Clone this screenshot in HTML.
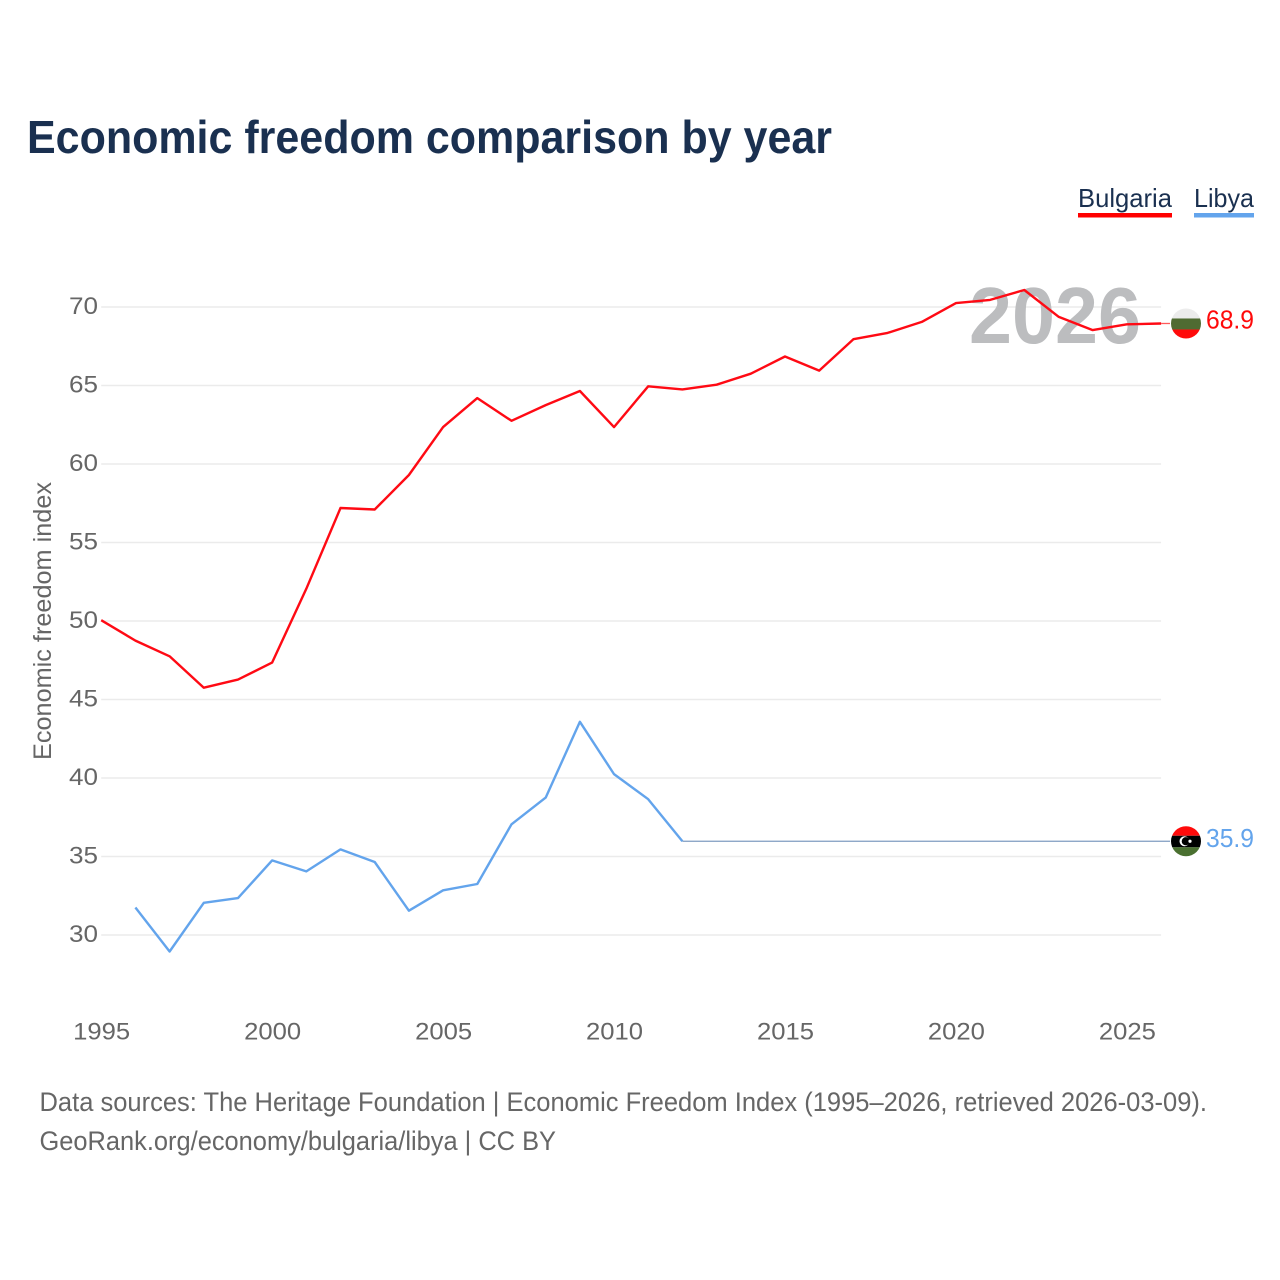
<!DOCTYPE html>
<html lang="en">
<head>
<meta charset="utf-8">
<title>Economic freedom comparison by year</title>
<style>
html,body{margin:0;padding:0;background:#fff}
svg{display:block}
text{font-family:"Liberation Sans",sans-serif}
</style>
</head>
<body>
<svg id="chart" xmlns="http://www.w3.org/2000/svg" width="1280" height="1280" viewBox="0 0 1280 1280">
  <rect width="1280" height="1280" fill="#fff"/>
  <text x="27" y="153" font-size="46" font-weight="700" fill="#1a3050" textLength="805" lengthAdjust="spacingAndGlyphs">Economic freedom comparison by year</text>

  <g>
    <g>
      <text x="1078" y="207" font-size="26" fill="#1a3050" textLength="94" lengthAdjust="spacingAndGlyphs">Bulgaria</text>
      <rect x="1078" y="213" width="94" height="4.5" fill="#ff0000"/>
    </g>
    <g>
      <text x="1194" y="207" font-size="26" fill="#1a3050" textLength="60" lengthAdjust="spacingAndGlyphs">Libya</text>
      <rect x="1194" y="213" width="60" height="4.5" fill="#63a4ec"/>
    </g>
  </g>

  <g id="grid"></g>
  <g id="yticks"></g>
  <g id="xticks"></g>

  <text transform="translate(51,621) rotate(-90)" text-anchor="middle" font-size="25" fill="#666" textLength="278" lengthAdjust="spacingAndGlyphs">Economic freedom index</text>

  <text id="yearWatermark" x="969" y="343" font-size="80" font-weight="700" fill="#bcbdbf" textLength="172" lengthAdjust="spacingAndGlyphs">2026</text>

  <g id="series"></g>
  <g id="endpoints"></g>

  <g>
    <text x="39.5" y="1111" font-size="26.5" fill="#666" textLength="1167.5" lengthAdjust="spacingAndGlyphs">Data sources: The Heritage Foundation | Economic Freedom Index (1995–2026, retrieved 2026-03-09).</text>
    <text x="39.5" y="1150" font-size="26.5" fill="#666" textLength="516.5" lengthAdjust="spacingAndGlyphs">GeoRank.org/economy/bulgaria/libya | CC BY</text>
  </g>
</svg>

<script>
const years = [1995,1996,1997,1998,1999,2000,2001,2002,2003,2004,2005,2006,2007,2008,2009,2010,2011,2012,2013,2014,2015,2016,2017,2018,2019,2020,2021,2022,2023,2024,2025,2026];
const bulgaria = [50.05,48.75,47.75,45.75,46.27,47.35,52.05,57.2,57.1,59.3,62.35,64.2,62.75,63.75,64.65,62.35,64.95,64.75,65.05,65.75,66.85,65.95,67.95,68.35,69.05,70.25,70.45,71.08,69.38,68.53,68.9,68.95];
const libya = [null,31.75,28.95,32.05,32.35,34.75,34.05,35.45,34.65,31.55,32.85,33.25,37.05,38.75,43.58,40.25,38.65,35.97];
const libyaHeldValue = [35.97];
const yTicks = [30,35,40,45,50,55,60,65,70];
const xTicks = [1995,2000,2005,2010,2015,2020,2025];
const printedValues = ["68.9","35.9"];

const NS = "http://www.w3.org/2000/svg";
const xScale = function (yr) { return 101.2 + (yr - 1995) * 34.19; };
const yScale = function (v) { return 307 + (70 - v) * 15.7; };

function make(tag, parent, attrs, txt) {
  const el = document.createElementNS(NS, tag);
  for (const k in attrs) el.setAttribute(k, attrs[k]);
  if (txt !== undefined) el.textContent = txt;
  parent.appendChild(el);
  return el;
}

const gridG = document.getElementById("grid");
const yG = document.getElementById("yticks");
const xG = document.getElementById("xticks");
const seriesG = document.getElementById("series");
const endG = document.getElementById("endpoints");

yTicks.forEach(function (t) {
  const ln = make("line", gridG, {x1: xScale(1995), x2: xScale(2026), y1: yScale(t), y2: yScale(t), stroke: "#ebebeb", "stroke-width": 1.6});
  
  
  const lb = make("text", yG, {x: 98, y: yScale(t) + 7, "text-anchor": "end", "font-size": 24, fill: "#666", textLength: 29, lengthAdjust: "spacingAndGlyphs"}, String(t));
  
  
});

xTicks.forEach(function (t) {
  const lb = make("text", xG, {x: xScale(t) + 0.5, y: 1039.5, "text-anchor": "middle", "font-size": 24, fill: "#666", textLength: 57, lengthAdjust: "spacingAndGlyphs"}, String(t));
  
  
});

function linePoints(values) {
  const pts = [];
  values.forEach(function (v, i) {
    if (v !== null) pts.push(xScale(years[i]).toFixed(1) + "," + yScale(v).toFixed(1));
  });
  return pts.join(" ");
}

const bulgariaLine = make("polyline", seriesG, {points: linePoints(bulgaria), fill: "none", stroke: "#ff0a14", "stroke-width": 2.4, "stroke-linejoin": "round"});



const libyaLine = make("polyline", seriesG, {points: linePoints(libya), fill: "none", stroke: "#63a4ec", "stroke-width": 2.4, "stroke-linejoin": "round"});



const markerX = 1186;
const libyaEndY = yScale(libyaHeldValue[0]);
const bulgariaEndY = yScale(bulgaria[bulgaria.length - 1]);

const libyaHold = make("line", seriesG, {x1: xScale(2012), x2: 1170, y1: libyaEndY, y2: libyaEndY, stroke: "#7f9cc0", "stroke-width": 1.3});



const bulgariaHold = make("line", seriesG, {x1: xScale(2026), x2: 1170, y1: bulgariaEndY, y2: bulgariaEndY, stroke: "#ff5a5a", "stroke-width": 1.3});



function flagClip(id, cy) {
  let defs = document.getElementById("flagDefs");
  if (!defs) {
    defs = make("defs", endG, {id: "flagDefs"});
  }
  const cp = make("clipPath", defs, {id: id});
  make("circle", cp, {cx: markerX, cy: cy, r: 15});
}

flagClip("clipBg", bulgariaEndY);
flagClip("clipLy", libyaEndY);

const bgFlag = make("g", endG, {"clip-path": "url(#clipBg)"});


make("rect", bgFlag, {x: markerX - 15, y: bulgariaEndY - 15.5, width: 30, height: 10.5, fill: "#ececec"});
make("rect", bgFlag, {x: markerX - 15, y: bulgariaEndY - 5, width: 30, height: 11, fill: "#4f6b32"});
make("rect", bgFlag, {x: markerX - 15, y: bulgariaEndY + 6, width: 30, height: 10, fill: "#ff0a0a"});

const lyFlag = make("g", endG, {"clip-path": "url(#clipLy)"});


make("rect", lyFlag, {x: markerX - 15, y: libyaEndY - 15.5, width: 30, height: 10, fill: "#ff0a0a"});
make("rect", lyFlag, {x: markerX - 15, y: libyaEndY - 5.5, width: 30, height: 11.5, fill: "#000"});
make("rect", lyFlag, {x: markerX - 15, y: libyaEndY + 6, width: 30, height: 10, fill: "#4a7030"});
make("circle", lyFlag, {cx: markerX - 1.5, cy: libyaEndY, r: 5, fill: "#fff"});
make("circle", lyFlag, {cx: markerX - 0.2, cy: libyaEndY, r: 4.1, fill: "#000"});
make("circle", lyFlag, {cx: markerX + 4, cy: libyaEndY, r: 1.6, fill: "#fff"});

const bgValue = make("text", endG, {x: 1206, y: bulgariaEndY + 5, "font-size": 26, fill: "#ff0a0a", textLength: 48, lengthAdjust: "spacingAndGlyphs"}, printedValues[0]);



const lyValue = make("text", endG, {x: 1206, y: libyaEndY + 5.5, "font-size": 26, fill: "#63a4ec", textLength: 48, lengthAdjust: "spacingAndGlyphs"}, printedValues[1]);


</script>
</body>
</html>
